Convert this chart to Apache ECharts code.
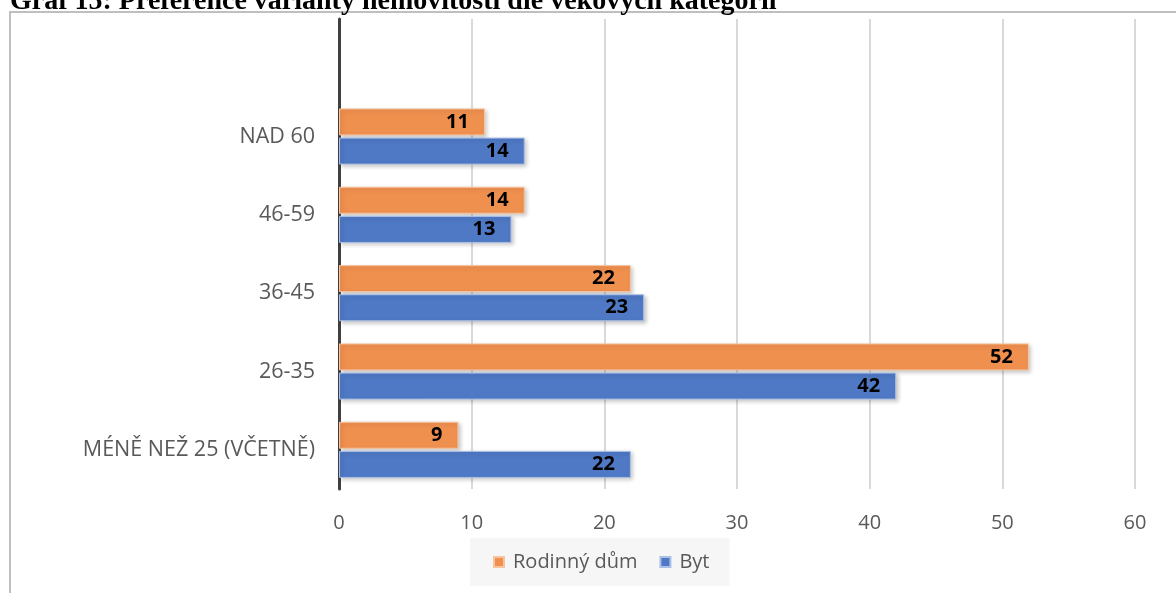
<!DOCTYPE html>
<html>
<head>
<meta charset="utf-8">
<script src="https://cdn.jsdelivr.net/npm/echarts@6/dist/echarts.min.js"></script>
<style>
  html, body { margin: 0; padding: 0; background: #ffffff; }
  #chart { width: 1176px; height: 593px; }
</style>
</head>
<body>
<div id="chart"></div>
<script>
// Age groups, bottom to top; the last band is left empty, as in the source sheet
const categories = ['MÉNĚ NEŽ 25 (VČETNĚ)', '26-35', '36-45', '46-59', 'NAD 60', ''];
const rodinnyDum = [9, 52, 22, 14, 11, null];
const byt = [22, 42, 23, 13, 14, null];
const xTicks = [0, 10, 20, 30, 40, 50, 60];
const seriesNames = ['Rodinný dům', 'Byt'];
const titleText = 'Graf 15: Preference varianty nemovitostí dle věkových kategorií';

const FONT = '"Open Sans", "Noto Sans", sans-serif';
const FS = 20;

const chart = echarts.init(document.getElementById('chart'), null, { renderer: 'canvas' });

function barSeries(name, data, color, border) {
  return {
    name: name,
    type: 'bar',
    data: data,
    barWidth: 27,
    barGap: '8%',
    itemStyle: {
      color: color,
      borderColor: border,
      borderWidth: 1,
      shadowColor: 'rgba(0,0,0,0.22)',
      shadowBlur: 4,
      shadowOffsetX: 2,
      shadowOffsetY: 2
    },
    label: {
      show: true,
      position: 'insideRight',
      distance: 16,
      color: '#000000',
      fontWeight: 'bold',
      fontSize: FS,
      fontFamily: FONT
    },
    emphasis: { disabled: true },
    animation: false
  };
}

chart.setOption({
  backgroundColor: '#ffffff',
  animation: false,
  graphic: [
    {
      type: 'rect',
      silent: true,
      shape: { x: 10, y: 12, width: 1200, height: 620 },
      style: { fill: null, stroke: '#bfbfbf', lineWidth: 2 }
    },
    {
      type: 'text',
      silent: true,
      x: 10,
      y: 16,
      style: {
        text: titleText,
        font: 'bold 28px "Liberation Serif", "DejaVu Serif", serif',
        fill: '#000000',
        verticalAlign: 'bottom'
      }
    }
  ],
  grid: { left: 339, right: 41, top: 19, bottom: 104, containLabel: false },
  xAxis: {
    type: 'value',
    min: xTicks[0],
    max: xTicks[xTicks.length - 1],
    interval: 10,
    axisLine: { show: false },
    axisTick: { show: false },
    axisLabel: {
      color: '#595959',
      fontSize: FS,
      fontFamily: FONT,
      margin: 24
    },
    splitLine: { show: true, lineStyle: { color: '#d9d9d9', width: 2 } }
  },
  yAxis: {
    type: 'category',
    data: categories,
    axisLine: { show: true, lineStyle: { color: '#404040', width: 3 } },
    axisTick: { show: false },
    axisLabel: {
      color: '#595959',
      fontSize: 21.5,
      fontFamily: FONT,
      margin: 24
    }
  },
  legend: {
    data: seriesNames,
    left: 470,
    top: 538,
    orient: 'horizontal',
    backgroundColor: '#f6f6f6',
    padding: [14, 20, 14, 23],
    itemWidth: 10,
    itemHeight: 10,
    itemGap: 22,
    icon: 'rect',
    textStyle: { color: '#595959', fontSize: FS, fontFamily: FONT, padding: [0, 0, 0, 4] },
    selectedMode: false
  },
  series: [
    barSeries(seriesNames[0], rodinnyDum, '#f0904f', '#f8c4a0'),
    barSeries(seriesNames[1], byt, '#4f79c5', '#a9bfe6')
  ]
});
</script>
</body>
</html>
